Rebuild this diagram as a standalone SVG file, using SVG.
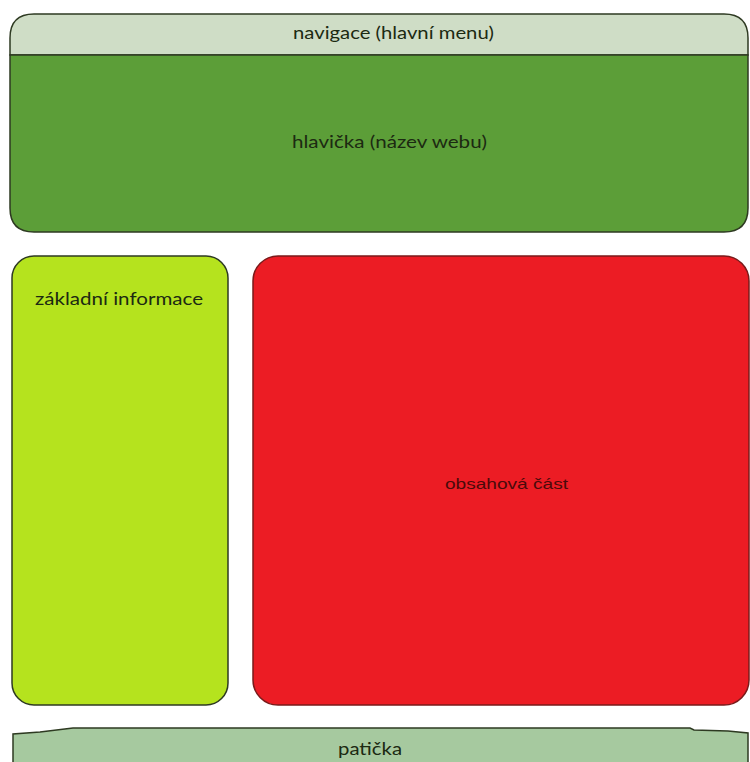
<svg xmlns="http://www.w3.org/2000/svg" width="750" height="762" viewBox="0 0 750 762">
<style>
.box{stroke:#2e3a22;stroke-width:1.5}
.t{font-family:Lato,"Open Sans","DejaVu Sans",sans-serif;font-size:18px;fill:#1c2a12;text-anchor:middle}
</style>
<rect width="750" height="762" fill="#ffffff"/>
<g id="header">
<path class="box" d="M10,55 L10,38 Q10,14 34,14 L724,14 Q748,14 748,38 L748,55 Z" fill="#cfddc6"/>
<path class="box" d="M10,55 L748,55 L748,208 Q748,232 724,232 L34,232 Q10,232 10,208 Z" fill="#5c9e38"/>
<text class="t" x="393.5" y="38.5" textLength="201" lengthAdjust="spacingAndGlyphs">navigace (hlavní menu)</text>
<text class="t" x="389.5" y="148" textLength="195" lengthAdjust="spacingAndGlyphs">hlavička (název webu)</text>
</g>
<g id="sidebar">
<rect class="box" x="12" y="256" width="216" height="449" rx="22" fill="#b5e31e"/>
<text class="t" x="119" y="305" textLength="168" lengthAdjust="spacingAndGlyphs">základní informace</text>
</g>
<g id="content">
<rect x="253" y="256" width="496" height="449" rx="25" fill="#ec1c24" stroke="#7a1a1a" stroke-width="1.5"/>
<text x="506.5" y="489" font-family="Liberation Sans, Arial, sans-serif" font-size="15" fill="#4a0a0a" text-anchor="middle" textLength="123" lengthAdjust="spacingAndGlyphs">obsahová část</text>
</g>
<g id="footer">
<path class="box" d="M13,762 L13,734 L40,732 L73,728 L690,728 L694,730 L728,731 L748,733 L748,762" fill="#a6c99f"/>
<text class="t" x="370" y="755" textLength="64" lengthAdjust="spacingAndGlyphs">patička</text>
</g>
<g id="connectors"></g>
</svg>
